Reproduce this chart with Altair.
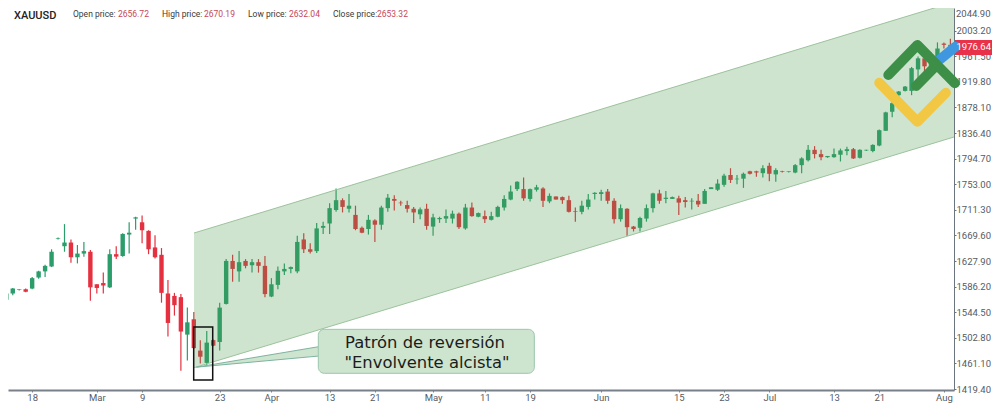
import altair as alt
import pandas as pd

opens = [1565,1575,1581,1582,1583,1601,1611,1619,1664,1652,1658,1634,1640,1643,1590,1592,1585,1639,1636,1671,1697,1691,1677,1650,1638,1575,1571,1569,1508,1533,1482,1462,1499,1496,1558,1628,1611,1628,1621,1626,
         1620,1570,1589,1611,1615,1611,1663,1647,1644,1682,1689,1711,1727,1713,1703,1682,1680,1694,1687,1714,1729,1723,1719,1713,1704,1713,1684,1696,1697,1697,1705,1681,1715,1700,1701,1695,1700,1715,1728,1745,
         1745,1729,1744,1746,1725,1733,1732,1727,1709,1708,1716,1737,1737,1741,1726,1696,1713,1684,1682,1697,1714,1738,1729,1729,1730,1727,1725,1726,1721,1745,1744,1752,1768,1761,1762,1774,1774,
         1771,1783,1769,1774,1773,1772,1784,1792,1809,1802,1797,1797,1801,1807,1810,1796,1808,1807,1816,1840,1871,1898,1905,1905,1940,1958,1945,1955,1982,1980]
highs = [1576,1584,1582,1583,1602,1612,1622,1647,1666,1688,1663,1654,1659,1646,1590,1609,1647,1652,1673,1691,1700,1702,1678,1670,1649,1597,1576,1574,1552,1545,1499,1514,1500,1560,1631,1638,1644,1631,1631,1631,
         1636,1600,1619,1624,1619,1669,1673,1657,1690,1692,1722,1746,1730,1737,1718,1684,1703,1696,1718,1737,1735,1726,1726,1716,1715,1721,1705,1700,1712,1710,1707,1721,1723,1707,1710,1708,1718,1735,1751,1758,
         1764,1746,1752,1748,1738,1733,1733,1734,1715,1726,1737,1740,1744,1745,1730,1720,1714,1685,1700,1720,1739,1744,1742,1733,1734,1732,1730,1737,1745,1748,1761,1770,1779,1768,1772,1775,1775,
         1784,1788,1779,1775,1774,1786,1797,1817,1815,1809,1799,1811,1811,1814,1812,1810,1809,1818,1842,1871,1887,1905,1913,1944,1961,1962,1968,1984,1984,1990]
lows = [1564,1572,1580,1577,1582,1599,1602,1618,1663,1643,1625,1624,1635,1563,1575,1575,1584,1631,1635,1640,1679,1657,1639,1632,1560,1505,1539,1449,1466,1485,1461,1458,1489,1482,1557,1594,1594,1616,1609,1609,
        1569,1569,1582,1605,1608,1608,1641,1640,1641,1672,1672,1708,1707,1707,1678,1673,1671,1659,1679,1708,1710,1718,1707,1690,1696,1679,1669,1690,1690,1689,1680,1679,1700,1699,1690,1694,1699,1710,1727,1742,
        1726,1725,1741,1716,1722,1728,1721,1707,1692,1704,1712,1728,1726,1721,1689,1692,1669,1676,1676,1692,1707,1721,1722,1729,1703,1715,1712,1716,1721,1745,1742,1749,1755,1753,1747,1769,1765,
        1764,1758,1757,1772,1772,1771,1771,1790,1795,1792,1796,1796,1790,1800,1794,1795,1807,1805,1815,1840,1862,1885,1904,1898,1906,1935,1930,1950,1974,1972]
closes = [1575,1583,1582,1578,1600,1611,1620,1643,1665,1658,1634,1640,1644,1585,1584,1588,1639,1635,1672,1674,1699,1678,1647,1634,1576,1527,1556,1513,1528,1486,1472,1495,1490,1552,1628,1615,1626,1620,1626,1620,
          1574,1590,1612,1615,1618,1659,1647,1643,1681,1685,1714,1727,1716,1718,1680,1674,1695,1687,1715,1731,1726,1722,1713,1707,1712,1685,1699,1698,1701,1705,1683,1715,1701,1706,1696,1701,1716,1729,1741,1757,
          1730,1745,1748,1726,1734,1728,1727,1708,1708,1718,1728,1739,1740,1726,1696,1714,1683,1680,1698,1714,1738,1726,1731,1732,1723,1724,1726,1720,1742,1748,1754,1767,1760,1762,1770,1770,1772,
          1779,1770,1776,1773,1774,1784,1795,1809,1802,1797,1799,1802,1808,1810,1795,1809,1809,1817,1841,1870,1885,1904,1912,1942,1958,1945,1962,1974,1980,1977]

price_ticks = [2003.2,1961.5,1919.8,1878.1,1836.4,1794.7,1753.0,1711.3,1669.6,1627.9,1586.2,1544.5,1502.8,1461.1,1419.4]
date_idx = [4,14,21,33,41,50,57,66,74,81,92,104,111,118,128,135,145]
date_lbl = ["18","Mar","9","23","Apr","13","21","May","11","19","Jun","15","23","Jul","13","21","Aug"]

channel_x = [29.03,146.56]
channel_up = [1673.5,2049.8]
channel_lo = [1454.1,1829.9]
GREEN, RED = "#2a9d6a", "#e5303f"
FONT = "Roboto"

xs = alt.Scale(domain=[0.263,146.56], nice=False, zero=False, padding=0)
ys = alt.Scale(domain=[1417.8,2040.0], nice=False, zero=False, padding=0)

n = len(opens)
df = pd.DataFrame({"i":range(n),"o":opens,"h":highs,"l":lows,"c":closes})
df["col"] = [GREEN if c>=o else RED for o,c in zip(opens,closes)]

lblexpr = "{" + ",".join(f"'{i}':'{t}'" for i,t in zip(date_idx,date_lbl)) + "}[datum.value]"

ax_x = alt.Axis(values=date_idx, labelExpr=lblexpr, grid=False, title=None,
        domainColor="#78808a", domainWidth=2, tickColor="#78808a", tickSize=2, labelColor="#555b63",
        labelFont=FONT, labelFontSize=9.5, labelPadding=0, labelFlush=False, labelOverlap=False)
ax_y = alt.Axis(orient="right", values=price_ticks, format=".2f", grid=False, title=None,
        domainColor="#6b7580", domainWidth=1, tickColor="#6b7580", tickSize=2, labelColor="#555b63",
        labelFont=FONT, labelFontSize=9.5, labelPadding=0, labelOverlap=False, labelBound=False)

def X(f="x"):
    return alt.X(f"{f}:Q", scale=xs, axis=ax_x)
def Y(f="y"):
    return alt.Y(f"{f}:Q", scale=ys, axis=ax_y)

wick = alt.Chart(df).mark_rule(strokeWidth=1.2, clip=True).encode(
    x=X("i"), y=Y("l"), y2="h:Q", color=alt.Color("col:N", scale=None))
body = alt.Chart(df).mark_bar(size=4.4, clip=True).encode(
    x=X("i"), y=Y("o"), y2="c:Q", color=alt.Color("col:N", scale=None))

ch = pd.DataFrame({"x":channel_x,"u":channel_up,"d":channel_lo})
chan = alt.Chart(ch).mark_area(color="#4c9a4c", opacity=0.27, clip=True).encode(x=X(), y=Y("u"), y2="d:Q")
chan_u = alt.Chart(ch).mark_line(color="#9cc29c", strokeWidth=1, clip=True).encode(x=X(), y=Y("u"))
chan_d = alt.Chart(ch).mark_line(color="#9cc29c", strokeWidth=1, clip=True).encode(x=X(), y=Y("d"))

box = alt.Chart(pd.DataFrame({"x":[28.98],"x2":[31.92],"y":[1520.4],"y2":[1434.1]})).mark_rect(
    filled=False, stroke="#111111", strokeWidth=1.5).encode(x=X(), x2="x2:Q", y=Y(), y2="y2:Q")

wedge_df = pd.DataFrame({"x":[29.4,48.3],"u":[1455.0,1488.3],"d":[1455.0,1473.1]})
wedge = alt.Chart(wedge_df).mark_area(color="#cde4cf").encode(x=X(), y=Y("u"), y2="d:Q")
wedge_u = alt.Chart(wedge_df).mark_line(color="#7fb3a0", strokeWidth=1).encode(x=X(), y=Y("u"))
wedge_d = alt.Chart(wedge_df).mark_line(color="#7fb3a0", strokeWidth=1).encode(x=X(), y=Y("d"))
callout = alt.Chart(pd.DataFrame({"x":[48.25],"x2":[81.66],"y":[1516.6],"y2":[1445.0]})).mark_rect(
    fill="#cde4cf", stroke="#9cc6ad", strokeWidth=1, cornerRadius=6).encode(x=X(), x2="x2:Q", y=Y(), y2="y2:Q")
note = alt.Chart(pd.DataFrame({"x":[64.75,65.06],"y":[1494.8,1462.2],"t":["Patrón de reversión","\"Envolvente alcista\""]})).mark_text(
    font="DejaVu Sans", fontSize=16.4, color="#1c1c1c", align="center", baseline="middle").encode(x=X(), y=Y(), text="t:N")

def stroke(px, py, color):
    d = pd.DataFrame({"x":px,"y":py,"k":range(len(px))})
    return alt.Chart(d).mark_line(color=color, strokeWidth=10, strokeCap="round", strokeJoin="round").encode(
        x=X(), y=Y(), order="k:Q")

logo = [
    stroke([135.0,140.9,145.3],[1918.3,1854.8,1902.0],"#f2c744"),
    stroke([144.4,146.8],[1956.5,1977.0],"#3f97e0"),
    stroke([136.4,140.9,146.7],[1930.9,1979.7,1917.4],"#3d8f47"),
    stroke([140.7,143.9],[1912.96,1947.2],"#3d8f47"),
]

tag = alt.Chart(pd.DataFrame({"y":[1987.9],"y2":[1963.5]})).mark_rect(color="#e8324a").encode(
    x=alt.value(947), x2=alt.value(984), y=Y(), y2="y2:Q")
tag_t = alt.Chart(pd.DataFrame({"y":[1976.64],"t":["1976.64"]})).mark_text(
    font=FONT, fontSize=9.5, color="white", align="left", baseline="middle").encode(x=alt.value(948.5), y=Y(), text="t:N")
top_t = alt.Chart(pd.DataFrame({"t":["2044.90"]})).mark_text(
    font=FONT, fontSize=9.5, color="#555b63", align="left", baseline="top").encode(x=alt.value(948), y=alt.value(1), text="t:N")

def head(x, t, color, size=8.5, weight=400, y=6):
    return alt.Chart(pd.DataFrame({"t":[t]})).mark_text(font=FONT, fontSize=size, fontWeight=weight, color=color,
        align="left", baseline="middle").encode(x=alt.value(x-8), y=alt.value(y), text="t:N")

header = [
    head(14,"XAUUSD","#222222",11,500,y=8),
    head(73,"Open price:","#3a3a3a"), head(118,"2656.72","#c4475a"),
    head(162,"High price:","#3a3a3a"), head(204,"2670.19","#c4475a"),
    head(248,"Low price:","#3a3a3a"), head(289,"2632.04","#c4475a"),
    head(333,"Close price:","#3a3a3a"), head(377,"2653.32","#c4475a"),
]

chart = alt.layer(wick, body, chan, chan_u, chan_d, wedge, wedge_u, wedge_d, callout, note, box, tag, top_t, *logo, tag_t, *header).properties(
    width=946, height=382,
    autosize=alt.AutoSizeParams(type="none"),
    padding={"left":0,"top":0,"right":38,"bottom":13},
    background="white",
).configure_view(stroke=None)

chart.save("out.html", embed_options={"renderer":"svg","actions":False})
